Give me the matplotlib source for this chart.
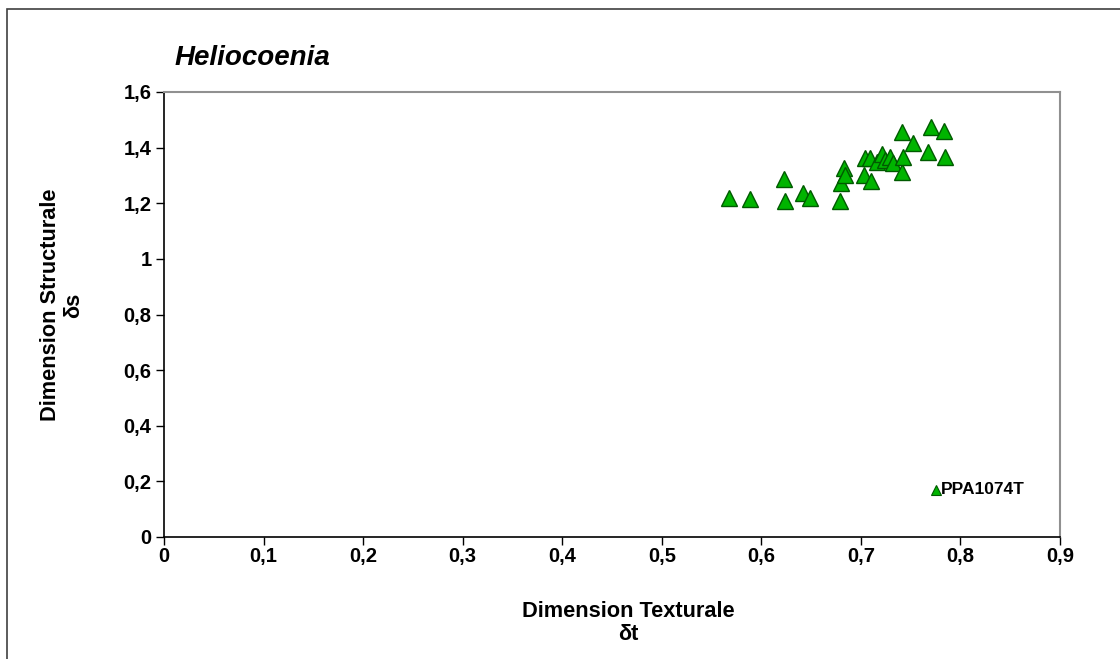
import matplotlib.pyplot as plt
from matplotlib.patches import Rectangle

plt.rcParams['font.family'] = ['Liberation Sans', 'DejaVu Sans']
plt.rcParams['font.weight'] = 'bold'

# texture dimension (x) vs structural dimension (y) for Heliocoenia samples
dt = [0.568, 0.589, 0.623, 0.624, 0.642, 0.649, 0.679, 0.680, 0.683, 0.684,
      0.703, 0.710, 0.704, 0.709, 0.716, 0.721, 0.724, 0.729, 0.732, 0.741,
      0.741, 0.742, 0.752, 0.767, 0.770, 0.783, 0.784]
ds = [1.219, 1.214, 1.286, 1.209, 1.236, 1.218, 1.209, 1.272, 1.326, 1.302,
      1.302, 1.280, 1.364, 1.362, 1.350, 1.376, 1.356, 1.368, 1.346, 1.457,
      1.314, 1.368, 1.418, 1.386, 1.473, 1.461, 1.368]

# outlier sample
out_name = "PPA1074T"
out_dt = 0.775
out_ds = 0.170

xticks = [0, 0.1, 0.2, 0.3, 0.4, 0.5, 0.6, 0.7, 0.8, 0.9]
yticks = [0, 0.2, 0.4, 0.6, 0.8, 1.0, 1.2, 1.4, 1.6]


def comma(v):
    s = ('%.1f' % v).replace('.', ',')
    if s.endswith(',0'):
        s = s[:-2]
    return s


W, H = 1120, 659
fig = plt.figure(figsize=(W / 100, H / 100), dpi=100)
ax = fig.add_axes([164 / W, 1 - 537 / H, (1060 - 164) / W, (537 - 92) / H])

# outer chart frame (cut off on right and bottom)
fig.patches.append(Rectangle((7 / W, -0.1), 1.2, 1 - 9 / H + 0.1,
                             transform=fig.transFigure, fill=False,
                             edgecolor='#404040', linewidth=1.2))

ax.plot(dt, ds, linestyle='none', marker='^', markersize=11.5,
        markerfacecolor='#00b400', markeredgecolor='#005a00', markeredgewidth=1.0)
ax.plot([out_dt], [out_ds], linestyle='none', marker='^', markersize=7.5,
        markerfacecolor='#00b400', markeredgecolor='#005a00', markeredgewidth=0.8)
ax.annotate(out_name, (out_dt, out_ds), xytext=(4, 0), textcoords='offset points',
            va='center', ha='left', fontsize=12.5, fontweight='bold')

ax.set_xlim(0, 0.9)
ax.set_ylim(0, 1.6)
ax.set_xticks(xticks)
ax.set_yticks(yticks)
ax.set_xticklabels([comma(v) for v in xticks], fontsize=14.5, fontweight='bold')
ax.set_yticklabels([comma(v) for v in yticks], fontsize=14.5, fontweight='bold')
ax.tick_params(direction='out', length=6, width=1, pad=3)
ax.tick_params(axis='x', pad=1)

for side in ['top', 'right']:
    ax.spines[side].set_color('#909090')
    ax.spines[side].set_linewidth(1.5)
for side in ['left', 'bottom']:
    ax.spines[side].set_color('black')
    ax.spines[side].set_linewidth(1.2)

fig.text(175 / W, 1 - 58 / H, "Heliocoenia", fontsize=20, fontweight='bold',
         fontstyle='italic', ha='left', va='center')
fig.text(628 / W, 1 - 623 / H, "Dimension Texturale\nδt", fontsize=15.7,
         fontweight='bold', ha='center', va='center', linespacing=1.15)
fig.text(62 / W, 1 - 305 / H, "Dimension Structurale\nδs", fontsize=15.7,
         fontweight='bold', ha='center', va='center', rotation=90, linespacing=1.15)

fig.savefig('out.png', dpi=100)
